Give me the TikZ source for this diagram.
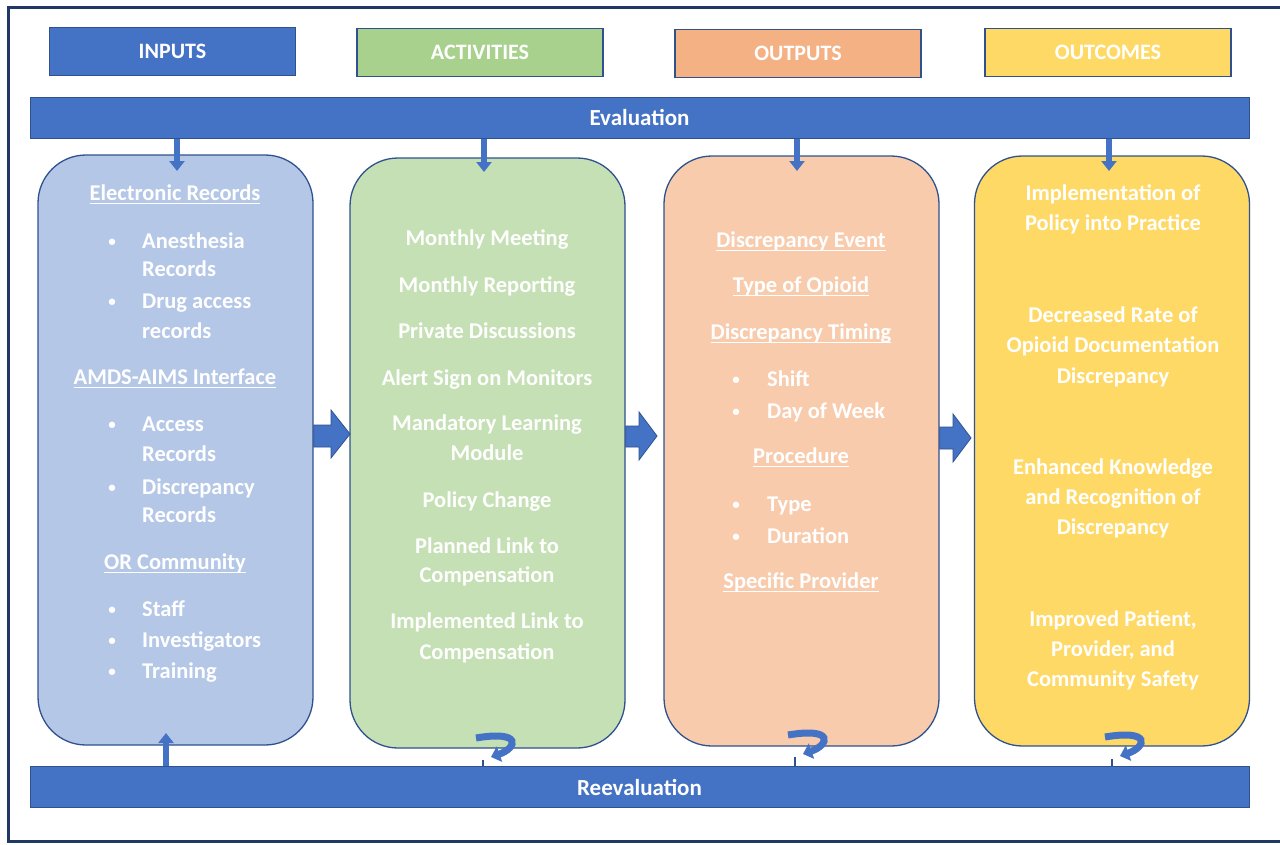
\documentclass[tikz,border=0pt]{standalone}
\usepackage{fontspec}
\setmainfont{Carlito}
\usetikzlibrary{arrows.meta}
\definecolor{barblue}{HTML}{4472C4}
\definecolor{edgeblue}{HTML}{2F528F}
\definecolor{framenavy}{HTML}{1F3864}
\definecolor{colA}{HTML}{B4C7E7}
\definecolor{colB}{HTML}{C5E0B4}
\definecolor{colC}{HTML}{F8CBAD}
\definecolor{colD}{HTML}{FFD966}
\definecolor{hdB}{HTML}{A9D18E}
\definecolor{hdC}{HTML}{F4B183}
\definecolor{hdD}{HTML}{FFD966}
\newcommand{\myul}[1]{\setbox0\hbox{#1}\makebox[0pt][l]{\rule[-4pt]{\wd0}{1.3pt}}\box0}
\newcommand{\smbul}{\raisebox{2pt}{\fontsize{15}{15}\selectfont\textbullet}}
\begin{document}
\begin{tikzpicture}[x=1pt,y=-1pt,
  hdbox/.style={draw=edgeblue, line width=1.8pt, minimum width=246pt, minimum height=48pt, inner sep=0pt, text=white, font=\bfseries\fontsize{22}{24}\selectfont},
  barbox/.style={draw=edgeblue, line width=1pt, fill=barblue, minimum width=1219pt, minimum height=41pt, inner sep=0pt, text=white, font=\bfseries\fontsize{23}{24}\selectfont},
  colbox/.style={draw=edgeblue, line width=1.3pt, rounded corners=48pt, minimum width=275pt, minimum height=590pt, inner sep=0pt},
  txt/.style={text=white, font=\bfseries\fontsize{22.5}{30}\selectfont, inner sep=0pt, anchor=base},
  ltxt/.style={txt, anchor=base west},
  vshaft/.style={draw=barblue, line width=6pt, -{Triangle[width=15pt,length=10pt]}},
  blockarrow/.style={fill=barblue, draw=edgeblue, line width=0.8pt},
  uturn/.style={draw=barblue, line width=7pt, -{Triangle[width=16pt,length=9pt]}},
]
\useasboundingbox (0,0) rectangle (1280,844);
\fill[white] (0,0) rectangle (1280,844);
\draw[framenavy, line width=3pt] (8,7) rectangle (1295,841);

% headers
\node[hdbox, fill=barblue] (hin) at (172.5,51.5) {INPUTS};
\node[hdbox, fill=hdB] (hact) at (480,52.5) {ACTIVITIES};
\node[hdbox, fill=hdC] (hout) at (798,53.5) {OUTPUTS};
\node[hdbox, fill=hdD] (hoc) at (1108,52.5) {OUTCOMES};

% bars
\node[barbox] (eval) at (639.5,117.5) {Evaluation};
\node[barbox] (reeval) at (639.5,787) {Reevaluation};

% columns
\node[colbox, fill=colA] (c1) at (175.5,450) {};
\node[colbox, fill=colB] (c2) at (487.5,453) {};
\node[colbox, fill=colC] (c3) at (801.5,451) {};
\node[colbox, fill=colD] (c4) at (1112,451) {};

% down arrows from Evaluation
\coordinate (d1) at (177,171);
\coordinate (d2) at (484,172);
\coordinate (d3) at (797,171);
\coordinate (d4) at (1109,171);
\draw[vshaft] (eval.south -| d1) -- (d1);
\draw[vshaft] (eval.south -| d2) -- (d2);
\draw[vshaft] (eval.south -| d3) -- (d3);
\draw[vshaft] (eval.south -| d4) -- (d4);

% up arrow to inputs
\coordinate (u1) at (166,733);
\draw[vshaft] (reeval.north -| u1) -- (u1);

% block arrows between columns
\fill[blockarrow] (c1.east |- 0,425) -- (331,425) -- (331,410) -- (350,434) -- (331,458) -- (331,447) -- (c1.east |- 0,447) -- cycle;
\fill[blockarrow] (c2.east |- 0,426) -- (639,426) -- (639,412) -- (657,436) -- (639,460) -- (639,447) -- (c2.east |- 0,447) -- cycle;
\fill[blockarrow] (c3.east |- 0,427) -- (953,427) -- (953,414) -- (971,438) -- (953,462) -- (953,449) -- (c3.east |- 0,449) -- cycle;

% U-turn arrows
\coordinate (t2) at (491,757);
\coordinate (t3) at (803,754);
\coordinate (t4) at (1120,756);
\draw[edgeblue, line width=1.5pt] (483,760) -- (reeval.north -| 483,0);
\draw[edgeblue, line width=1.5pt] (795,757) -- (reeval.north -| 795,0);
\draw[edgeblue, line width=1.5pt] (1112,759) -- (reeval.north -| 1112,0);
\draw[uturn] (476,738) .. controls (523,730) and (517,748) .. (t2);
\draw[uturn] (788,735) .. controls (835,727) and (829,745) .. (t3);
\draw[uturn] (1105,737) .. controls (1152,729) and (1146,747) .. (t4);

% column 1 text
\node[txt] (a1) at (175,200) {\myul{Electronic Records}};
\node[txt] (a1b1) at (112,248) {\smbul};
\node[ltxt] (a1t1) at (142,248) {Anesthesia};
\node[ltxt] (a1t1b) at (142,276) {Records};
\node[txt] (a1b2) at (112,308) {\smbul};
\node[ltxt] (a1t2) at (142,308) {Drug access};
\node[ltxt] (a1t2b) at (142,338) {records};
\node[txt] (a2) at (175,384) {\myul{AMDS-AIMS Interface}};
\node[txt] (a2b1) at (112,431) {\smbul};
\node[ltxt] (a2t1) at (142,431) {Access};
\node[ltxt] (a2t1b) at (142,461) {Records};
\node[txt] (a2b2) at (112,494) {\smbul};
\node[ltxt] (a2t2) at (142,494) {Discrepancy};
\node[ltxt] (a2t2b) at (142,522) {Records};
\node[txt] (a3) at (175,569) {\myul{OR Community}};
\node[txt] (a3b1) at (112,616) {\smbul};
\node[ltxt] (a3t1) at (142,616) {Staff};
\node[txt] (a3b2) at (112,647) {\smbul};
\node[ltxt] (a3t2) at (142,647) {Investigators};
\node[txt] (a3b3) at (112,678) {\smbul};
\node[ltxt] (a3t3) at (142,678) {Training};

% column 2 text
\node[txt] (b1) at (487,245) {Monthly Meeting};
\node[txt] (b2) at (487,292) {Monthly Reporting};
\node[txt] (b3) at (487,338) {Private Discussions};
\node[txt] (b4) at (487,385) {Alert Sign on Monitors};
\node[txt] (b5) at (487,430) {Mandatory Learning};
\node[txt] (b5b) at (487,460) {Module};
\node[txt] (b6) at (487,507) {Policy Change};
\node[txt] (b7) at (487,553) {Planned Link to};
\node[txt] (b7b) at (487,582) {Compensation};
\node[txt] (b8) at (487,628) {Implemented Link to};
\node[txt] (b8b) at (487,659) {Compensation};

% column 3 text
\node[txt] (e1) at (801,247) {\myul{Discrepancy Event}};
\node[txt] (e2) at (801,292) {\myul{Type of Opioid}};
\node[txt] (e3) at (801,339) {\myul{Discrepancy Timing}};
\node[txt] (e3b1) at (736,386) {\smbul};
\node[ltxt] (e3t1) at (767,386) {Shift};
\node[txt] (e3b2) at (736,418) {\smbul};
\node[ltxt] (e3t2) at (767,418) {Day of Week};
\node[txt] (e4) at (801,463) {\myul{Procedure}};
\node[txt] (e4b1) at (736,511) {\smbul};
\node[ltxt] (e4t1) at (767,511) {Type};
\node[txt] (e4b2) at (736,543) {\smbul};
\node[ltxt] (e4t2) at (767,543) {Duration};
\node[txt] (e5) at (801,588) {\myul{Specific Provider}};

% column 4 text
\node[txt] (o1) at (1113,200) {Implementation of};
\node[txt] (o1b) at (1113,230) {Policy into Practice};
\node[txt] (o2) at (1113,322) {Decreased Rate of};
\node[txt] (o2b) at (1113,352) {Opioid Documentation};
\node[txt] (o2c) at (1113,383) {Discrepancy};
\node[txt] (o3) at (1113,474) {Enhanced Knowledge};
\node[txt] (o3b) at (1113,504) {and Recognition of};
\node[txt] (o3c) at (1113,534) {Discrepancy};
\node[txt] (o4) at (1113,626) {Improved Patient,};
\node[txt] (o4b) at (1113,656) {Provider, and};
\node[txt] (o4c) at (1113,686) {Community Safety};
\end{tikzpicture}
\end{document}
